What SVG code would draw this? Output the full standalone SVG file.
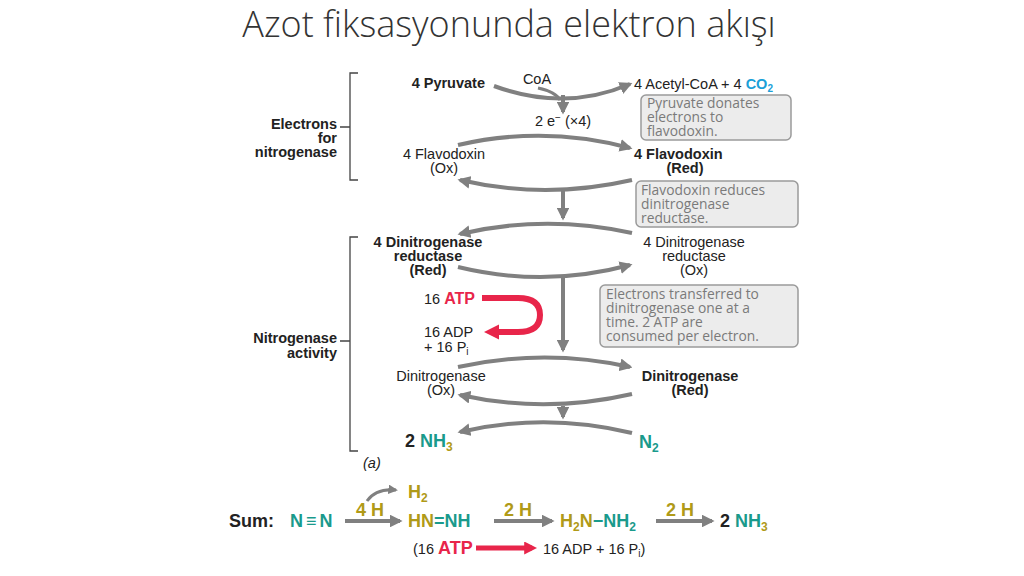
<svg xmlns="http://www.w3.org/2000/svg" width="1024" height="576" viewBox="0 0 1024 576">
<defs>
<marker id="ah" viewBox="0 0 10 10" refX="8" refY="5" markerWidth="3.2" markerHeight="3.2" orient="auto"><path d="M0,0L10,5L0,10z" fill="#808080"/></marker>
<marker id="ahr" viewBox="0 0 10 10" refX="6" refY="5" markerWidth="2.6" markerHeight="2.6" orient="auto"><path d="M0,0L10,5L0,10z" fill="#e8254a"/></marker>
<style>
text{font-family:"Liberation Sans",Arial,sans-serif;font-size:14.5px;fill:#222}
.b{font-weight:bold}
.m{text-anchor:middle}
.e{text-anchor:end}
.box rect{fill:#ececec;stroke:#9a9a9a;stroke-width:1.5}
.box text{font-family:"Open Sans","DejaVu Sans",sans-serif;font-size:13.8px;fill:#7a7a7a}
.arc{fill:none;stroke:#808080;stroke-width:4;marker-end:url(#ah)}
.br{fill:none;stroke:#444;stroke-width:1.3}
.n{fill:#1a9a8c}.h{fill:#b09a18}.r{fill:#e8254a}
.s{font-size:18px;font-weight:bold}
</style>
</defs>
<text x="509" y="37" class="m" style="font-family:'Open Sans',sans-serif;font-size:36px;font-weight:300;fill:#333">Azot fiksasyonunda elektron akışı</text>

<g id="brackets">
<path class="br" d="M358,73H350V180H358M340,127H350"/>
<path class="br" d="M358,237H350V451H358M340,341H350"/>
<text x="337" y="129" class="b e">Electrons</text><text x="337" y="143" class="b e">for</text><text x="337" y="157" class="b e">nitrogenase</text>
<text x="337" y="343" class="b e">Nitrogenase</text><text x="337" y="358" class="b e">activity</text>
</g>

<g id="connectors">
<path class="arc" d="M494,86Q565,112 630,84"/>
<path class="arc" d="M538,88Q556,92 560,100" style="stroke-width:3;marker-end:none"/>
<path class="arc" d="M563,95V112"/>
<path class="arc" d="M458,145Q545,125 630,148"/>
<path class="arc" d="M632,180Q545,200 460,180"/>
<path class="arc" d="M563,188V218"/>
<path class="arc" d="M632,233Q545,214 460,234"/>
<path class="arc" d="M458,267Q545,288 630,265"/>
<path class="arc" d="M563,278V350"/>
<path class="arc" d="M458,367Q545,348 630,367"/>
<path class="arc" d="M632,394Q545,414 460,395"/>
<path class="arc" d="M563,406V417"/>
<path class="arc" d="M632,433Q545,412 460,432"/>
<path d="M482,298H518Q540,298 540,315Q540,332 518,332H490" fill="none" stroke="#e8254a" stroke-width="6" marker-end="url(#ahr)"/>
<path class="arc" d="M345,521H400"/>
<path class="arc" d="M367,501Q376,488 396,490" style="stroke-width:3"/>
<path class="arc" d="M494,521H552"/>
<path class="arc" d="M656,521H712"/>
<path d="M476,548H532" stroke="#e8254a" stroke-width="5" marker-end="url(#ahr)"/>
</g>

<g id="row1">
<text x="485" y="88" class="b e">4 Pyruvate</text>
<text x="537" y="84" class="m">CoA</text>
<text x="634" y="89">4 Acetyl-CoA + 4 <tspan class="b" fill="#1aa0d8">CO<tspan font-size="10" dy="3">2</tspan></tspan></text>
<text x="563" y="126" class="m">2 e<tspan font-size="10" dy="-5">−</tspan><tspan dy="5"> (×4)</tspan></text>
</g>
<g id="box1" class="box"><rect x="641" y="95" width="150" height="45" rx="5"/><text x="647" y="108">Pyruvate donates</text><text x="647" y="122">electrons to</text><text x="647" y="136">flavodoxin.</text></g>
<g id="flavOx"><text x="444" y="159" class="m">4 Flavodoxin</text><text x="444" y="173" class="m">(Ox)</text></g>
<g id="flavRed"><text x="634" y="159" class="b">4 Flavodoxin</text><text x="685" y="173" class="b m">(Red)</text></g>
<g id="box2" class="box"><rect x="636" y="181" width="162" height="46" rx="5"/><text x="641" y="195">Flavodoxin reduces</text><text x="641" y="209">dinitrogenase</text><text x="641" y="223">reductase.</text></g>
<g id="redRed"><text x="428" y="247" class="b m">4 Dinitrogenase</text><text x="428" y="261" class="b m">reductase</text><text x="428" y="275" class="b m">(Red)</text></g>
<g id="redOx"><text x="694" y="247" class="m">4 Dinitrogenase</text><text x="694" y="261" class="m">reductase</text><text x="694" y="275" class="m">(Ox)</text></g>
<g id="atp"><text x="424" y="304">16 <tspan class="b r" font-size="16">ATP</tspan></text><text x="424" y="337">16 ADP</text><text x="424" y="352">+ 16 P<tspan font-size="10" dy="3">i</tspan></text></g>
<g id="box3" class="box"><rect x="600" y="285" width="198" height="62" rx="5"/><text x="606" y="299">Electrons transferred to</text><text x="606" y="313">dinitrogenase one at a</text><text x="606" y="327">time. 2 ATP are</text><text x="606" y="341">consumed per electron.</text></g>
<g id="dnOx"><text x="441" y="381" class="m">Dinitrogenase</text><text x="441" y="395" class="m">(Ox)</text></g>
<g id="dnRed"><text x="690" y="381" class="b m">Dinitrogenase</text><text x="690" y="395" class="b m">(Red)</text></g>
<g id="nh3"><text x="405" y="447" class="s" font-size="17">2 <tspan class="n">NH</tspan><tspan class="h" font-size="12" dy="4">3</tspan></text></g>
<g id="n2"><text x="639" y="448" class="s n">N<tspan font-size="12" dy="4">2</tspan></text></g>
<text x="363" y="468" font-style="italic" font-size="13">(a)</text>

<g id="sum">
<text x="229" y="527" class="s">Sum:</text>
<text x="290" y="527" class="s n" letter-spacing="3">N≡N</text>
<text x="356" y="516" class="s h">4 H</text>
<text x="408" y="498" class="s h">H<tspan font-size="12" dy="4">2</tspan></text>
<text x="408" y="527" class="s"><tspan class="h">HN</tspan><tspan class="n">=NH</tspan></text>
<text x="504" y="516" class="s h">2 H</text>
<text x="560" y="527" class="s"><tspan class="h">H</tspan><tspan class="h" font-size="12" dy="4">2</tspan><tspan class="h" dy="-4">N</tspan><tspan class="n">−NH</tspan><tspan class="n" font-size="12" dy="4">2</tspan></text>
<text x="666" y="516" class="s h">2 H</text>
<text x="720" y="527" class="s">2 <tspan class="n">NH</tspan><tspan class="h" font-size="12" dy="4">3</tspan></text>
<text x="413" y="554" font-size="15">(16 <tspan class="b r" font-size="18">ATP</tspan></text>
<text x="543" y="554" font-size="15">16 ADP + 16 P<tspan font-size="10" dy="3">i</tspan><tspan dy="-3">)</tspan></text>
</g>
</svg>
